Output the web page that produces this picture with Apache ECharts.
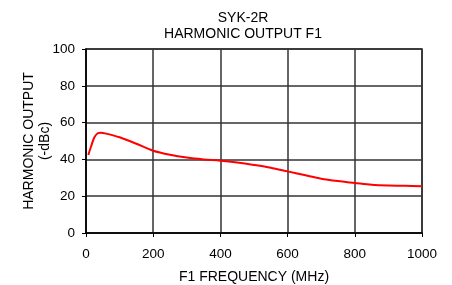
<!DOCTYPE html>
<html>
<head>
<meta charset="utf-8">
<script src="https://cdn.jsdelivr.net/npm/echarts@6/dist/echarts.min.js"></script>
<style>
  html, body { margin: 0; padding: 0; background: #fff; }
  #chart { width: 452px; height: 285px; }
</style>
</head>
<body>
<div id="chart"></div>
<script>
// F1 frequency (MHz) vs harmonic output (-dBc)
const freq = [7, 15, 25, 35, 44, 60, 100, 150, 200, 250, 300, 350, 400, 450, 500, 550, 600, 650, 700, 750, 800, 850, 900, 950, 1000];
const harmonic = [42.4, 47, 52, 54.2, 54.5, 54, 52, 48.5, 44.7, 42.5, 41, 40, 39.3, 38.3, 37, 35.5, 33.5, 31.5, 29.5, 28.2, 27.2, 26.2, 25.8, 25.7, 25.4];

const fontFamily = '"Liberation Sans", Arial, sans-serif';

const chart = echarts.init(document.getElementById('chart'), null, { renderer: 'canvas' });

chart.setOption({
  animation: false,
  title: {
    text: 'SYK-2R\nHARMONIC OUTPUT F1',
    left: 238,
    textAlign: 'center',
    top: 5,
    textStyle: { fontFamily, fontSize: 14, fontWeight: 'normal', color: '#000', lineHeight: 16 }
  },
  grid: {
    left: 86, right: 30, top: 49, bottom: 52,
    outerBoundsMode: 'none', containLabel: false,
    show: true, borderColor: '#222', borderWidth: 1.5
  },
  xAxis: {
    type: 'value',
    min: 0, max: 1000, interval: 200,
    name: 'F1 FREQUENCY (MHz)',
    nameLocation: 'middle',
    nameGap: 37,
    nameMoveOverlap: false,
    nameTextStyle: { fontFamily, fontSize: 14, color: '#000' },
    axisLine: { lineStyle: { color: '#000', width: 1.5 } },
    axisTick: { inside: false, length: 4, lineStyle: { color: '#000' } },
    axisLabel: { fontFamily, fontSize: 13.5, color: '#000', margin: 14, formatter: v => String(v) },
    splitLine: { lineStyle: { color: '#333', width: 1.5 } }
  },
  yAxis: {
    type: 'value',
    min: 0, max: 100, interval: 20,
    name: 'HARMONIC OUTPUT\n(-dBc)',
    nameLocation: 'middle',
    nameGap: 33,
    nameMoveOverlap: false,
    nameTextStyle: { fontFamily, fontSize: 14, color: '#000', lineHeight: 16 },
    axisLine: { show: true, lineStyle: { color: '#000', width: 1.5 } },
    axisTick: { show: true, inside: false, length: 4, lineStyle: { color: '#000' } },
    axisLabel: { fontFamily, fontSize: 13.5, color: '#000', margin: 11 },
    splitLine: { lineStyle: { color: '#333', width: 1.5 } }
  },
  series: [{
    type: 'line',
    data: freq.map((f, i) => [f, harmonic[i]]),
    smooth: 0.3,
    showSymbol: false,
    lineStyle: { color: '#ff0000', width: 2 }
  }]
});
</script>
</body>
</html>
